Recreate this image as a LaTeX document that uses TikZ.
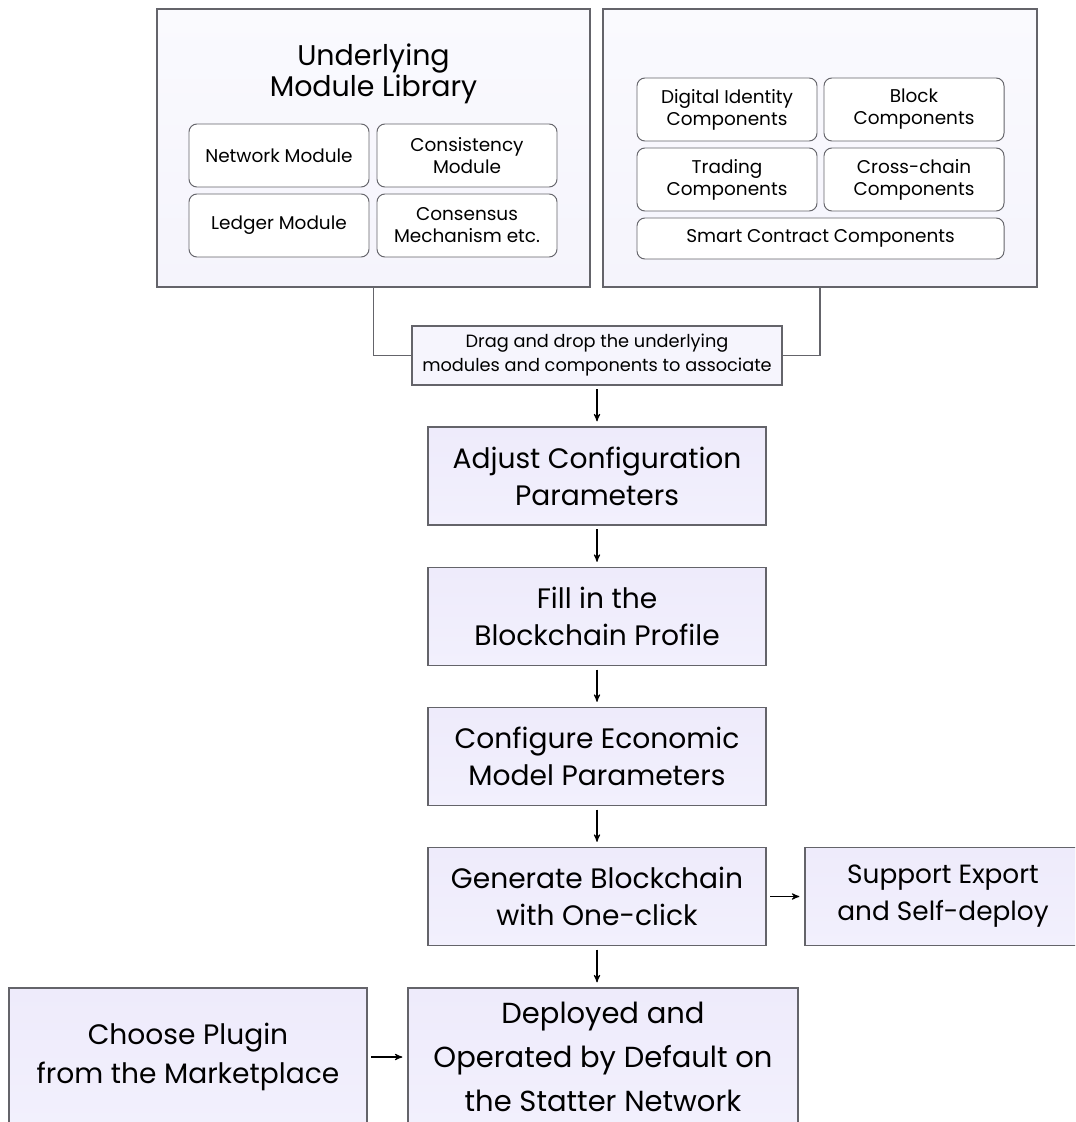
\documentclass[tikz,border=0pt]{standalone}
\usepackage{fontspec}
\setmainfont{Poppins}
\usetikzlibrary{arrows}

\definecolor{edgegray}{RGB}{100,100,106}
\definecolor{libfill}{RGB}{250,250,254}
\definecolor{libfillb}{RGB}{245,244,252}
\definecolor{dragfill}{RGB}{246,245,253}
\definecolor{stepfill}{RGB}{238,235,251}
\definecolor{stepfillb}{RGB}{242,240,253}

\begin{document}
\begin{tikzpicture}[->,>=stealth',
  libbox/.style = {rectangle, draw = edgegray, line width = 0.7pt,
                   top color = libfill, bottom color = libfillb},
  modbox/.style = {rectangle, draw = edgegray, line width = 0.55pt,
                   rounded corners = 4.5pt, fill = white,
                   minimum width = 3.6cm, minimum height = 1.26cm,
                   align = center, font = \fontsize{10.5}{12.5}\selectfont},
  stepbox/.style = {rectangle, draw = edgegray, line width = 0.7pt,
                    top color = stepfill, bottom color = stepfillb,
                    minimum width = 6.76cm, minimum height = 1.96cm,
                    align = center, font = \fontsize{16}{21}\selectfont},
  link/.style = {-, draw = edgegray, line width = 0.6pt},
  flow/.style = {line width = 0.6pt, shorten <= 0.07cm, shorten >= 0.1cm}
  ]

  \useasboundingbox (0,0) rectangle (21.5,-22.44);
  \clip (0,0) rectangle (21.5,-22.44);

  % module library
  \node[libbox,
        minimum width = 8.66cm,
        minimum height = 5.56cm
        ] (lib) at (7.47,-2.96) {};
  \node[align = center,
        font = \fontsize{16.2}{17.5}\selectfont
        ] (libtitle) at (7.47,-1.48) {Underlying\\Module Library};

  \node[modbox] (net) at (5.58,-3.11) {Network Module};
  \node[modbox] (cons) at (9.34,-3.11) {Consistency\\Module};
  \node[modbox] (ldg) at (5.58,-4.51) {Ledger Module};
  \node[modbox] (csm) at (9.34,-4.51) {Consensus\\Mechanism etc.};

  % components
  \node[libbox,
        minimum width = 8.68cm,
        minimum height = 5.56cm
        ] (comp) at (16.4,-2.96) {};

  \node[modbox] (did) at (14.54,-2.19) {Digital Identity\\Components};
  \node[modbox] (blk) at (18.28,-2.19) {Block\\Components};
  \node[modbox] (trd) at (14.54,-3.59) {Trading\\Components};
  \node[modbox] (xch) at (18.28,-3.59) {Cross-chain\\Components};
  \node[modbox,
        minimum width = 7.34cm,
        minimum height = 0.82cm
        ] (sc) at (16.41,-4.77) {Smart Contract Components};

  % drag and drop
  \node[rectangle,
        draw = edgegray,
        line width = 0.7pt,
        fill = dragfill,
        minimum width = 7.4cm,
        minimum height = 1.18cm,
        align = center,
        font = \fontsize{10.1}{13.7}\selectfont
        ] (drag) at (11.94,-7.11) {Drag and drop the underlying\\modules and components to associate};

  % steps
  \node[stepbox] (adj) at (11.94,-9.52) {Adjust Configuration\\Parameters};
  \node[stepbox] (fill) at (11.94,-12.33) {Fill in the\\Blockchain Profile};
  \node[stepbox] (eco) at (11.94,-15.13) {Configure Economic\\Model Parameters};
  \node[stepbox] (gen) at (11.94,-17.93) {Generate Blockchain\\with One-click};
  \node[stepbox,
        minimum width = 5.52cm,
        font = \fontsize{15}{21}\selectfont
        ] (exp) at (18.86,-17.93) {Support Export\\and Self-deploy};
  \node[stepbox,
        minimum width = 7.8cm,
        minimum height = 2.76cm,
        font = \fontsize{16.5}{25}\selectfont
        ] (dep) at (12.06,-21.14) {Deployed and\\Operated by Default on\\the Statter Network};
  \node[stepbox,
        minimum width = 7.16cm,
        minimum height = 2.76cm,
        font = \fontsize{16}{22}\selectfont
        ] (plug) at (3.76,-21.14) {Choose Plugin\\from the Marketplace};

  \draw[link] (lib.south) |- (drag.west);
  \draw[link] (comp.south) |- (drag.east);

  \path[flow]
  (drag) edge [] (adj)
  (adj) edge [] (fill)
  (fill) edge [] (eco)
  (eco) edge [] (gen)
  (gen) edge [] (gen |- dep.north)
  (gen) edge [] (exp)
  (plug) edge [] (dep) ;

\end{tikzpicture}
\end{document}
